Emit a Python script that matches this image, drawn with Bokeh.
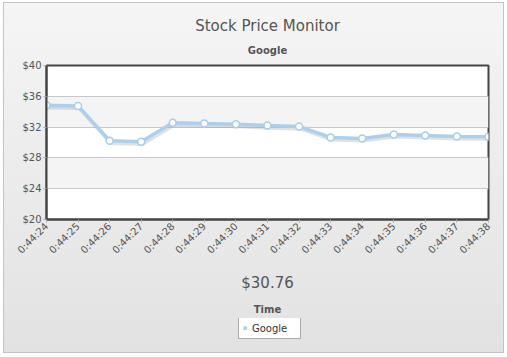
import math
from bokeh.plotting import figure
from bokeh.layouts import column
from bokeh.models import (ColumnDataSource, Range1d, FixedTicker, NumeralTickFormatter,
                          Title, Legend, LegendItem)
from bokeh.transform import dodge
from bokeh.embed import file_html
from bokeh.resources import INLINE

# ---- data ----
times = ["0:44:24", "0:44:25", "0:44:26", "0:44:27", "0:44:28", "0:44:29", "0:44:30",
         "0:44:31", "0:44:32", "0:44:33", "0:44:34", "0:44:35", "0:44:36", "0:44:37", "0:44:38"]
prices = [34.84, 34.75, 30.23, 30.10, 32.55, 32.46, 32.38, 32.20, 32.08,
          30.66, 30.53, 31.05, 30.92, 30.79, 30.76]
y_ticks = [20, 24, 28, 32, 36, 40]
chart_title = "Stock Price Monitor"
chart_subtitle = "Google"
x_axis_title = "Time"
series_name = "Google"

FONT = "DejaVu Sans"
TXT = "#555555"
SERIES = "#abd0ef"

idx = list(range(len(times)))
src = ColumnDataSource(dict(x=idx, y=prices))

p = figure(width=499, height=315, output_backend="svg", toolbar_location=None, title=None,
           x_range=Range1d(0, len(times) - 1), y_range=Range1d(y_ticks[0], y_ticks[-1]),
           min_border_left=42, min_border_right=15, min_border_top=62, min_border_bottom=99)
p.border_fill_alpha = 0
p.background_fill_color = "#ffffff"
p.outline_line_color = "#444444"
p.outline_line_width = 2

# grid (alternate light-gray bands)
p.xgrid.visible = False
p.ygrid.ticker = FixedTicker(ticks=y_ticks)
p.ygrid.grid_line_color = "#c8c8c8"
p.ygrid.band_fill_color = "#f4f4f4"
p.ygrid.band_fill_alpha = 1.0

# axes
p.yaxis.ticker = FixedTicker(ticks=y_ticks)
p.yaxis.formatter = NumeralTickFormatter(format="$0")
p.xaxis.ticker = FixedTicker(ticks=idx)
p.xaxis.major_label_overrides = {i: t for i, t in zip(idx, times)}
p.xaxis.major_label_orientation = math.pi / 4
for ax in (p.xaxis[0], p.yaxis[0]):
    ax.axis_line_color = "#444444"
    ax.axis_line_width = 2
    ax.major_tick_in = 0
    ax.major_tick_out = 3
    ax.major_tick_line_color = "#aaaaaa"
    ax.minor_tick_line_color = None
    ax.major_label_text_font = FONT
    ax.major_label_text_font_size = "10px"
    ax.major_label_text_color = TXT
p.yaxis.major_label_standoff = 2
p.xaxis.major_label_standoff = 2

# series
p.line(x=dodge("x", 0.04, range=p.x_range), y=dodge("y", -0.35, range=p.y_range), source=src,
       line_color="#888888", line_alpha=0.25, line_width=3)
p.line("x", "y", source=src, line_color=SERIES, line_width=3.5)
p.scatter("x", "y", source=src, size=7, fill_color="white", line_color="#a8cdee", line_width=1.5)

# titles (above: first added is nearest the frame)
p.add_layout(Title(text=chart_subtitle, align="center", text_font=FONT, text_font_size="10px",
                   text_font_style="bold", text_color=TXT, standoff=20), "above")
p.add_layout(Title(text=chart_title, align="center", text_font=FONT, text_font_size="15px",
                   text_font_style="normal", text_color=TXT, standoff=-5), "above")

# below: value, axis title
p.add_layout(Title(text=f"${prices[-1]:.2f}", align="center", text_font=FONT,
                   text_font_size="15px", text_font_style="normal", text_color=TXT,
                   standoff=19), "below")
p.add_layout(Title(text=x_axis_title, align="center", text_font=FONT, text_font_size="10px",
                   text_font_style="bold", text_color=TXT, standoff=0), "below")

# legend strip (its swatch glyph uses the series' own data, which lies outside this strip's range)
lp = figure(width=499, height=34, output_backend="svg", toolbar_location=None, title=None,
            x_range=Range1d(0, 1), y_range=Range1d(0, 1),
            min_border=0, min_border_left=0, min_border_right=0, min_border_top=0,
            min_border_bottom=0)
lp.axis.visible = False
lp.grid.visible = False
lp.outline_line_color = None
lp.background_fill_alpha = 0
lp.border_fill_alpha = 0
swatch = lp.quad(left=prices[-1:], right=prices[-1:], top=prices[-1:], bottom=prices[-1:],
                 fill_color=SERIES, line_color=SERIES)
leg = Legend(items=[LegendItem(label=series_name, renderers=[swatch])], location=(192, 13),
             border_line_color="#555555", border_line_width=1, background_fill_color="white",
             background_fill_alpha=1, label_text_font=FONT, label_text_font_size="10px",
             label_text_color="#333333", glyph_width=4, glyph_height=4, label_height=12,
             label_width=44, label_standoff=5, padding=4, margin=0, spacing=0)
lp.add_layout(leg)

layout = column(p, lp, spacing=0,
                styles={"background": "linear-gradient(#f5f5f5, #e2e2e2)",
                        "outline": "1px solid #c4c4c4", "margin": "3px 4px 4px 4px"})

open("out.html", "w").write(file_html(layout, INLINE))
